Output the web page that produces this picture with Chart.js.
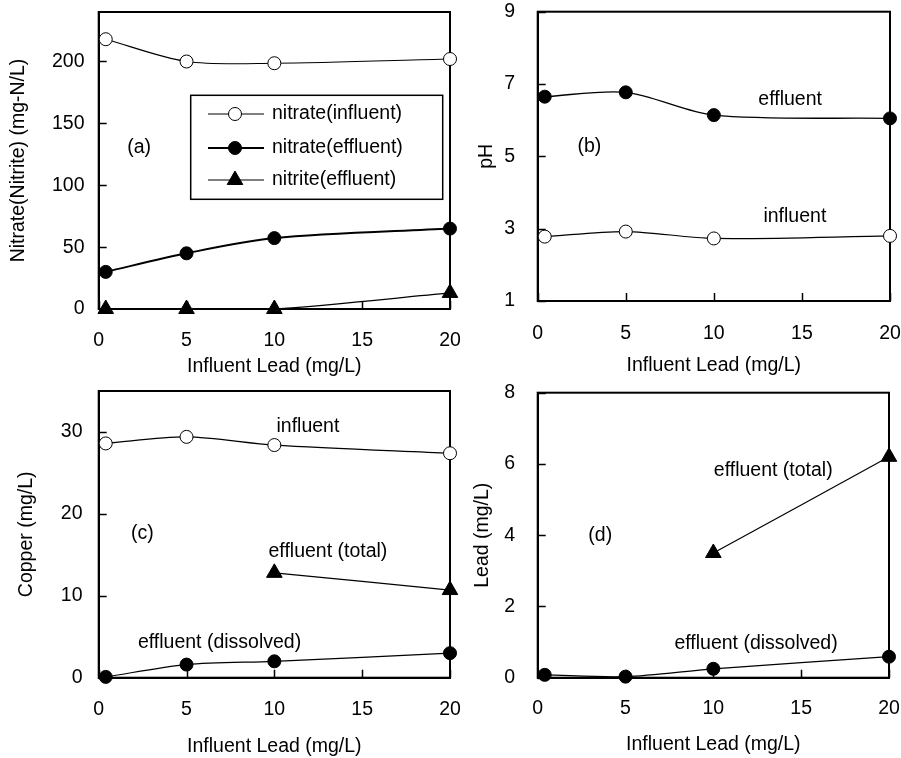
<!DOCTYPE html>
<html><head><meta charset="utf-8">
<script src="https://cdn.jsdelivr.net/npm/chart.js@4.4.1/dist/chart.umd.min.js"></script>
<style>
html,body{margin:0;padding:0;background:#fff;}
#wrap{position:relative;width:901px;height:758px;background:#fff;}
canvas{position:absolute;display:block;}
</style></head><body>
<div id="wrap">
<canvas id="ca" width="460" height="379" style="left:0;top:0"></canvas>
<canvas id="cb" width="441" height="379" style="left:460px;top:0"></canvas>
<canvas id="cc" width="460" height="379" style="left:0;top:379px"></canvas>
<canvas id="cd" width="441" height="379" style="left:460px;top:379px"></canvas>
</div>
<script>
// ---- data ----
const leadX = [0.4, 5, 10, 20];
const nitrateInfluent = [218, 200, 198.6, 202];
const nitrateEffluent = [30, 45, 57.3, 65];
const nitriteEffluent = [0, 0, 0, 13];
const phEffluent = [6.65, 6.77, 6.14, 6.05];
const phInfluent = [2.78, 2.92, 2.73, 2.80];
const copperInfluent = [28.6, 29.4, 28.4, 27.4];
const totalX = [10, 20];
const copperTotal = [12.8, 10.7];
const copperDissolved = [0.1, 1.6, 2.0, 3.0];
const leadTotal = [3.5, 6.2];
const leadDissolved = [0.08, 0.03, 0.25, 0.59];
const xTitle = 'Influent Lead (mg/L)';

const FAMILY = '"Liberation Sans", Arial, Helvetica, sans-serif';
const FS = 19.5;
const TICK = 8;

function pts(xs, ys) { return xs.map((x, i) => ({x: x, y: ys[i]})); }

// frame box + inward tick marks, positioned from the chart's own scales
const framePlugin = {
  id: 'frame',
  beforeDatasetsDraw(chart) {
    const {ctx, chartArea: a} = chart;
    const xs = chart.scales.x, ys = chart.scales.y;
    ctx.save();
    ctx.strokeStyle = '#000';
    ctx.lineWidth = 1.5;
    ctx.beginPath();
    xs.ticks.forEach(t => {
      const px = Math.round(xs.getPixelForValue(t.value)) + 0.5;
      ctx.moveTo(px, a.bottom); ctx.lineTo(px, a.bottom - TICK);
    });
    ys.ticks.forEach(t => {
      const py = Math.round(ys.getPixelForValue(t.value)) + 0.5;
      ctx.moveTo(a.left, py); ctx.lineTo(a.left + TICK, py);
    });
    ctx.stroke();
    ctx.lineWidth = 2;
    ctx.strokeRect(a.left, a.top, a.right - a.left, a.bottom - a.top);
    ctx.restore();
  }
};

const textPlugin = {
  id: 'panelText',
  afterDatasetsDraw(chart, args, opts) {
    const items = (opts && opts.items) || [];
    const {ctx} = chart;
    const xs = chart.scales.x, ys = chart.scales.y;
    ctx.save();
    ctx.fillStyle = '#000';
    ctx.font = FS + 'px ' + FAMILY;
    ctx.textAlign = 'center'; ctx.textBaseline = 'middle';
    items.forEach(it => ctx.fillText(it.text, xs.getPixelForValue(it.x), ys.getPixelForValue(it.y)));
    ctx.restore();
  }
};

function marker(ctx, style, r, x, y) {
  ctx.beginPath();
  if (style === 'triangle') {
    let rad = 0;
    ctx.moveTo(x + Math.sin(rad) * r, y - Math.cos(rad) * r);
    rad += 2 * Math.PI / 3;
    ctx.lineTo(x + Math.sin(rad) * r, y - Math.cos(rad) * r);
    rad += 2 * Math.PI / 3;
    ctx.lineTo(x + Math.sin(rad) * r, y - Math.cos(rad) * r);
    ctx.closePath();
  } else {
    ctx.arc(x, y, r, 0, Math.PI * 2);
  }
}

const legendPlugin = {
  id: 'boxLegend',
  afterDatasetsDraw(chart, args, opts) {
    if (!opts || !opts.display) return;
    const {ctx} = chart;
    const L = opts.left, T = opts.top;
    ctx.save();
    ctx.fillStyle = '#fff';
    ctx.fillRect(L, T, opts.width, opts.height);
    ctx.strokeStyle = '#000'; ctx.lineWidth = 1.5;
    ctx.strokeRect(L, T, opts.width, opts.height);
    chart.data.datasets.forEach((ds, i) => {
      const y = T + opts.rowY[i];
      ctx.beginPath();
      ctx.lineWidth = ds.borderWidth; ctx.strokeStyle = ds.borderColor;
      ctx.moveTo(L + opts.lineX1, y); ctx.lineTo(L + opts.lineX2, y);
      ctx.stroke();
      marker(ctx, ds.pointStyle, ds.pointRadius, L + opts.markerX, y);
      ctx.fillStyle = ds.pointBackgroundColor; ctx.fill();
      ctx.lineWidth = ds.pointBorderWidth; ctx.strokeStyle = ds.pointBorderColor; ctx.stroke();
      ctx.fillStyle = '#000';
      ctx.font = FS + 'px ' + FAMILY;
      ctx.textAlign = 'left'; ctx.textBaseline = 'middle';
      ctx.fillText(ds.label, L + opts.textX, y);
    });
    ctx.restore();
  }
};

function ds(label, data, style, fill, bw) {
  return {
    label: label, data: data,
    borderColor: '#000', borderWidth: bw || 1.2,
    pointStyle: style,
    pointRadius: style === 'triangle' ? 9 : 6.5,
    pointHoverRadius: style === 'triangle' ? 9 : 6.5,
    pointBackgroundColor: fill ? '#000' : '#fff',
    pointBorderColor: '#000', pointBorderWidth: 1,
    tension: 0.3, clip: false, fill: false
  };
}

function makeChart(id, cfg) {
  const c = document.getElementById(id);
  const W = c.width, H = c.height;
  return new Chart(c, {
    type: 'line',
    data: {datasets: cfg.datasets},
    plugins: [framePlugin, textPlugin, legendPlugin],
    options: {
      responsive: false, animation: false, events: [],
      layout: {autoPadding: false, padding: {left: 0, top: cfg.top, right: W - cfg.right, bottom: 0}},
      plugins: {
        legend: {display: false}, tooltip: {enabled: false},
        panelText: {items: cfg.texts},
        boxLegend: cfg.legend || {display: false}
      },
      scales: {
        x: {
          type: 'linear', min: 0, max: 20,
          afterFit(s) { s.height = H - cfg.bottom; s.paddingLeft = 0; s.paddingRight = 0; s.paddingTop = 0; s.paddingBottom = 0; },
          border: {display: true, color: '#000', width: 2},
          grid: {display: false, drawTicks: false},
          ticks: {stepSize: 5, includeBounds: false, padding: cfg.xPad, color: '#000', font: {family: FAMILY, size: FS}, maxRotation: 0, autoSkip: false},
          title: {display: true, text: xTitle, color: '#000', font: {family: FAMILY, size: FS}, padding: {top: 0, bottom: cfg.xtPad}}
        },
        y: {
          type: 'linear', min: cfg.ymin, max: cfg.ymax,
          afterFit(s) { s.width = cfg.left; s.paddingLeft = 0; s.paddingRight = 0; s.paddingTop = 0; s.paddingBottom = 0; },
          border: {display: true, color: '#000', width: 2},
          grid: {display: false, drawTicks: false},
          ticks: {stepSize: cfg.ystep, includeBounds: false, padding: cfg.yPad, color: '#000', font: {family: FAMILY, size: FS}},
          title: {display: true, text: cfg.ytitle, color: '#000', font: {family: FAMILY, size: FS}, padding: {top: cfg.ytPad, bottom: 0}}
        }
      }
    }
  });
}

// (a)
makeChart('ca', {
  left: 98.7, right: 450, top: 12, bottom: 309,
  ymin: 0, ymax: 240, ystep: 50, xPad: 19.8, yPad: 14.2, xtPad: 0.5, ytPad: 6.6,
  ytitle: 'Nitrate(Nitrite) (mg-N/L)',
  datasets: [
    ds('nitrate(influent)', pts(leadX, nitrateInfluent), 'circle', false, 1.2),
    ds('nitrate(effluent)', pts(leadX, nitrateEffluent), 'circle', true, 2),
    ds('nitrite(effluent)', pts(leadX, nitriteEffluent), 'triangle', true, 1.2)
  ],
  texts: [{text: '(a)', x: 2.3, y: 130.6}],
  legend: {display: true, left: 190.7, top: 95.3, width: 252, height: 104,
           rowY: [18.7, 52.7, 84.7], lineX1: 17.3, lineX2: 73.3, markerX: 44.3, textX: 81.3}
});

// (b)
makeChart('cb', {
  left: 77.7, right: 430, top: 11.7, bottom: 301,
  ymin: 1, ymax: 9, ystep: 2, xPad: 21.3, yPad: 22.7, xtPad: 1.3, ytPad: 15.3,
  ytitle: 'pH',
  datasets: [
    ds('effluent', pts(leadX, phEffluent), 'circle', true, 1.3),
    ds('influent', pts(leadX, phInfluent), 'circle', false, 1.2)
  ],
  texts: [
    {text: '(b)', x: 2.93, y: 5.27},
    {text: 'effluent', x: 14.33, y: 6.58},
    {text: 'influent', x: 14.6, y: 3.33}
  ]
});

// (c)
makeChart('cc', {
  left: 98.7, right: 450, top: 12, bottom: 298.7,
  ymin: 0, ymax: 35, ystep: 10, xPad: 20.6, yPad: 16.2, xtPad: 0, ytPad: 15,
  ytitle: 'Copper (mg/L)',
  datasets: [
    ds('influent', pts(leadX, copperInfluent), 'circle', false, 1.2),
    ds('effluent (total)', pts(totalX, copperTotal), 'triangle', true, 1.2),
    ds('effluent (dissolved)', pts(leadX, copperDissolved), 'circle', true, 1.2)
  ],
  texts: [
    {text: '(c)', x: 2.49, y: 17.57},
    {text: 'influent', x: 11.91, y: 30.6},
    {text: 'effluent (total)', x: 13.05, y: 15.4},
    {text: 'effluent (dissolved)', x: 6.88, y: 4.28}
  ]
});

// (d)
makeChart('cd', {
  left: 77.7, right: 429, top: 13.7, bottom: 298.7,
  ymin: 0, ymax: 8, ystep: 2, xPad: 19.6, yPad: 22.7, xtPad: 2, ytPad: 10.5,
  ytitle: 'Lead (mg/L)',
  datasets: [
    ds('effluent (total)', pts(totalX, leadTotal), 'triangle', true, 1.2),
    ds('effluent (dissolved)', pts(leadX, leadDissolved), 'circle', true, 1.3)
  ],
  texts: [
    {text: '(d)', x: 3.56, y: 3.99},
    {text: 'effluent (total)', x: 13.41, y: 5.81},
    {text: 'effluent (dissolved)', x: 12.43, y: 0.97}
  ]
});
</script>
</body></html>
